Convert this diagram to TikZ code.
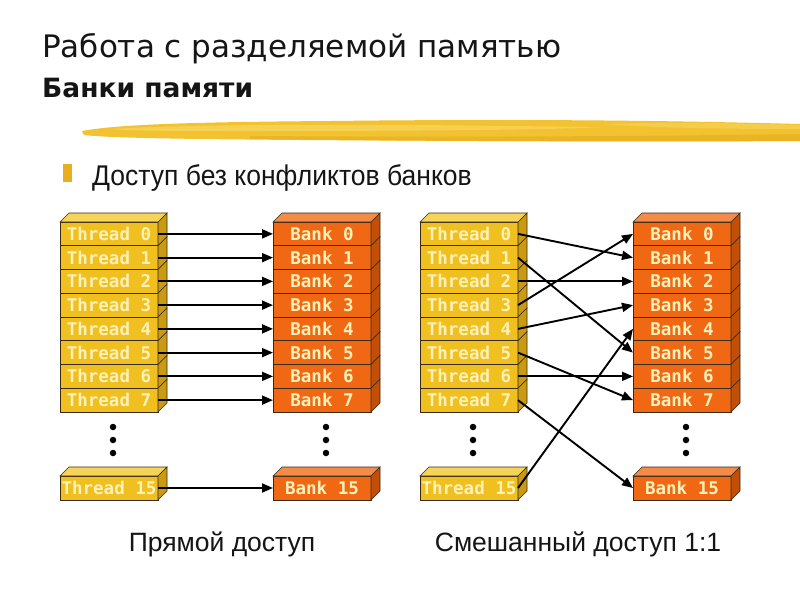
\documentclass[tikz,border=0pt]{standalone}
\usepackage{fontspec}
\setmainfont{DejaVu Sans}
\newfontfamily\titlefont{DejaVu Sans}
\newfontfamily\narrowfont[FakeStretch=0.93]{Liberation Sans}
\newfontfamily\labelfont{Liberation Sans}
\newfontfamily\cellfont{DejaVu Sans Mono}
\usetikzlibrary{calc,arrows.meta}
\definecolor{thrF}{HTML}{F0C020}
\definecolor{thrT}{HTML}{F6D45A}
\definecolor{thrS}{HTML}{C99A12}
\definecolor{bnkF}{HTML}{F06814}
\definecolor{bnkT}{HTML}{F48B48}
\definecolor{bnkS}{HTML}{C24E08}
\definecolor{celltext}{HTML}{FFF1B8}
\definecolor{edge}{HTML}{3A2A10}
\definecolor{brushA}{HTML}{F2C230}
\definecolor{brushB}{HTML}{F7D55A}
\definecolor{brushC}{HTML}{E8B020}
\definecolor{ink}{HTML}{151515}
\tikzset{
  cell/.style={rectangle,draw=edge,line width=0.6pt,minimum width=98pt,minimum height=23.75pt,
    inner sep=0pt,outer sep=0pt,anchor=north west,text=celltext,
    font=\cellfont\bfseries\fontsize{17.5}{19}\selectfont},
  thr/.style={cell,fill=thrF},
  bnk/.style={cell,fill=bnkF},
  lastcell/.style={minimum height=24pt},
  arr/.style={line width=1.9pt,-{Triangle[length=11pt,width=9pt]},draw=black},
  dot/.style={circle,fill=black,inner sep=0pt,minimum size=6.5pt},
}
\newcommand{\topface}[2]{\path[fill=#2,draw=edge,line width=0.6pt] (#1.north west) -- ++(9,-9) -- ($(#1.north east)+(9,-9)$) -- (#1.north east) -- cycle;}
\newcommand{\sideface}[2]{\path[fill=#2,draw=edge,line width=0.6pt] (#1.north east) -- ++(9,-9) -- ($(#1.south east)+(9,-9)$) -- (#1.south east) -- cycle;}
\begin{document}
\begin{tikzpicture}[x=1pt,y=-1pt]
\useasboundingbox (0,0) rectangle (800,600);
\fill[white] (0,0) rectangle (800,600);
% titles
\node[anchor=base west,inner sep=0pt,text=ink,font=\titlefont\fontsize{31}{36}\selectfont] (title) at (42,57) {Работа с разделяемой памятью};
\node[anchor=base west,inner sep=0pt,text=ink,font=\titlefont\bfseries\fontsize{26.5}{31}\selectfont] (subtitle) at (42,97) {Банки памяти};
% brush stroke
\fill[brushA] (82,131) .. controls (120,124) and (200,122) .. (330,121) .. controls (500,119) and (650,120) .. (800,124)
  -- (800,141) .. controls (650,142) and (450,141) .. (300,140) .. controls (180,139) and (110,138) .. (84,135) -- cycle;
\fill[brushB,opacity=0.8] (110,129) .. controls (200,124) and (300,125) .. (420,125) -- (600,127) .. controls (560,130) and (400,131) .. (250,131) .. controls (180,131) and (130,131) .. cycle;
\fill[brushC,opacity=0.7] (250,136) .. controls (400,137) and (600,137) .. (800,134) -- (800,141) .. controls (600,142) and (400,141) .. (250,139) -- cycle;
\fill[brushB,opacity=0.6] (600,124) .. controls (680,122) and (740,123) .. (800,125) -- (800,129) .. controls (720,129) and (660,128) .. cycle;
% bullet
\fill[brushC] (63,164) rectangle (72,182);
\node[anchor=base west,inner sep=0pt,text=ink,font=\narrowfont\fontsize{28.5}{32}\selectfont] (bullet) at (92,185) {Доступ без конфликтов банков};
% ---------- left group ----------
\foreach \i in {0,...,7} {
  \node[thr] (t\i) at (60,222+\i*23.75) {Thread \i};
  \node[bnk] (b\i) at (273,222+\i*23.75) {Bank \i};
}
\foreach \i in {0,...,7} {\sideface{t\i}{thrS}\sideface{b\i}{bnkS}}
\topface{t0}{thrT}\topface{b0}{bnkT}
\node[thr,lastcell] (t15) at (60,476) {Thread 15};
\node[bnk,lastcell] (b15) at (273,476) {Bank 15};
\topface{t15}{thrT}\sideface{t15}{thrS}
\topface{b15}{bnkT}\sideface{b15}{bnkS}
\foreach \i in {0,...,7} {\draw[arr] (t\i.east) -- (b\i.west);}
\draw[arr] (t15.east) -- (b15.west);
\node[dot] (ld1) at (113,427) {};
\node[dot] (ld2) at (113,440) {};
\node[dot] (ld3) at (113,453) {};
\node[dot] (lb1) at (326,427) {};
\node[dot] (lb2) at (326,440) {};
\node[dot] (lb3) at (326,453) {};
% ---------- right group ----------
\foreach \i in {0,...,7} {
  \node[thr] (u\i) at (420,222+\i*23.75) {Thread \i};
  \node[bnk] (c\i) at (633,222+\i*23.75) {Bank \i};
}
\foreach \i in {0,...,7} {\sideface{u\i}{thrS}\sideface{c\i}{bnkS}}
\topface{u0}{thrT}\topface{c0}{bnkT}
\node[thr,lastcell] (u15) at (420,476) {Thread 15};
\node[bnk,lastcell] (c15) at (633,476) {Bank 15};
\topface{u15}{thrT}\sideface{u15}{thrS}
\topface{c15}{bnkT}\sideface{c15}{bnkS}
\node[dot] (rd1) at (473,427) {};
\node[dot] (rd2) at (473,440) {};
\node[dot] (rd3) at (473,453) {};
\node[dot] (rb1) at (686,427) {};
\node[dot] (rb2) at (686,440) {};
\node[dot] (rb3) at (686,453) {};
\draw[arr] (u0.east) -- (c1.west);
\draw[arr] (u1.east) -- (c5.west);
\draw[arr] (u2.east) -- (c2.west);
\draw[arr] (u3.east) -- (c0.west);
\draw[arr] (u4.east) -- (c3.west);
\draw[arr] (u5.east) -- (c7.west);
\draw[arr] (u6.east) -- (c6.west);
\draw[arr] (u7.east) -- (c15.west);
\draw[arr] (u15.east) -- (c4.west);
% captions
\node[anchor=base,inner sep=0pt,text=ink,font=\labelfont\fontsize{26.5}{30}\selectfont] (cap1) at (222,551) {Прямой доступ};
\node[anchor=base,inner sep=0pt,text=ink,font=\labelfont\fontsize{26.5}{30}\selectfont] (cap2) at (578,551) {Смешанный доступ 1:1};
\end{tikzpicture}
\end{document}
